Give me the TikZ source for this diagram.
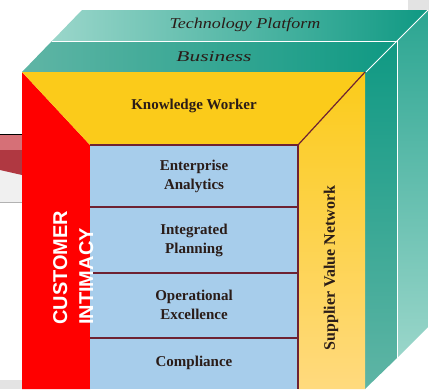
\documentclass[tikz,border=0pt]{standalone}
\usepackage{fontspec}
\setmainfont{Liberation Serif}
\newfontfamily\capsfont{Liberation Sans}
\usetikzlibrary{positioning}
\definecolor{kwyellow}{HTML}{FBCB1A}
\definecolor{kwyellowlt}{HTML}{FFDA7E}
\definecolor{cellblue}{HTML}{A7CDEB}
\definecolor{framered}{HTML}{FF0000}
\definecolor{edgemaroon}{HTML}{6E2232}
\definecolor{tealdk}{HTML}{0F9983}
\definecolor{tealmid}{HTML}{5FB5A5}
\definecolor{teallt}{HTML}{9AD6CA}
\definecolor{inkdark}{HTML}{2A1C18}
\definecolor{tubered}{HTML}{C8404A}
\tikzset{
  celltext/.style={font=\bfseries\fontsize{15}{19}\selectfont, text=inkdark, align=center},
  slabtext/.style={font=\itshape\fontsize{15}{18}\selectfont, text=inkdark},
  custtext/.style={font=\capsfont\bfseries\fontsize{20}{24}\selectfont, text=white, rotate=90, anchor=base west, inner sep=0pt},
  edge/.style={draw=edgemaroon, line width=1.2pt},
}
\begin{document}
\begin{tikzpicture}[x=1pt, y=-1pt]
        \useasboundingbox (0,0) rectangle (429,389);
        % Фон
        \fill[gray!22] (408,0) rectangle (429,12);
        \fill[gray!22] (0,380) rectangle (22,389);
        \fill[gray!12] (0,134) rectangle (22,202);
        \draw[gray!60] (0,202) -- (22,202);
        \fill[tubered!75!white] (0,135) rectangle (22,150);
        \fill[tubered!88!black] (0,150) -- (22,150) -- (22,175) -- (0,170) -- cycle;
        \draw[black, line width=1pt] (0,134) -- (22,134);
        % Верхние пластины
        \shade[left color=teallt, right color=tealdk] (82,10) -- (428,10) -- (397,41) -- (52,41) -- cycle;
        \shade[left color=tealmid, right color=tealdk] (52,41) -- (397,41) -- (366,72) -- (22,72) -- cycle;
        % Правые грани
        \shade[top color=tealdk, bottom color=tealmid] (365,72) -- (397,41) -- (397,358) -- (365,389) -- cycle;
        \shade[top color=tealdk!80!teallt, bottom color=teallt] (397,41) -- (428,10) -- (428,327) -- (397,358) -- cycle;
        \draw[white, line width=1pt] (52,41) -- (397,41) -- (397,358);
        \draw[white, line width=1pt] (366,72) -- (428,10);
        % Передняя рамка
        \fill[framered] (22,72) -- (90,145) -- (90,389) -- (22,389) -- cycle;
        \fill[kwyellow] (22,72) -- (365,72) -- (298,145) -- (90,145) -- cycle;
        \shade[top color=kwyellow, bottom color=kwyellowlt] (298,145) -- (365,72) -- (365,389) -- (298,389) -- cycle;
        \fill[cellblue] (90,145) rectangle (298,389);
        % Рёбра
        \draw[edge] (90,145) -- (298,145) -- (298,389);
        \draw[edge] (298,145) -- (365,72);
        \foreach \y in {207,273,338} {
          \draw[edge] (90,\y) -- (298,\y);
        }
        % Подписи
        \node[slabtext, xscale=1.2] (tech) at (245,25) {Technology Platform};
        \node[slabtext, xscale=1.43] (business) at (214,57) {Business};
        \node[celltext] (worker) at (194,106) {Knowledge Worker};
        \foreach \n/\y/\txt in {analytics/176/{Enterprise\\Analytics}, planning/240/{Integrated\\Planning},
                                 excellence/305/{Operational\\Excellence}, compliance/363/{Compliance}} {
          \node[celltext] (\n) at (194,\y) {\txt};
        }
        \node[celltext, rotate=90, font=\bfseries\fontsize{16}{19}\selectfont] (supplier) at (331,268) {Supplier Value Network};
        \node[custtext] (customer) at (67,325) {CUSTOMER};
        \node[custtext] (intimacy) at (93,325) {INTIMACY};
    \end{tikzpicture}
\end{document}
